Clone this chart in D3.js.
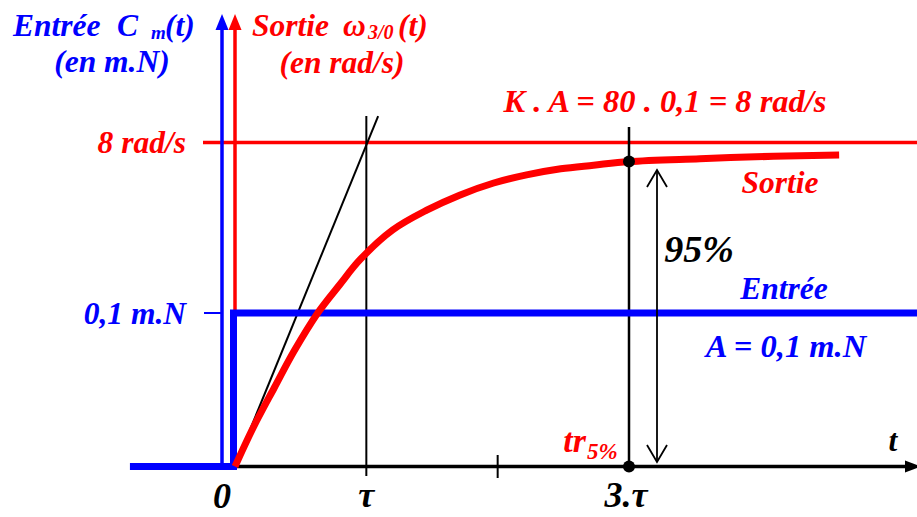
<!DOCTYPE html>
<html>
<head>
<meta charset="utf-8">
<script src="https://cdn.jsdelivr.net/npm/d3@7"></script>
<style>
  body { margin: 0; background: #fff; }
  svg text { font-family: "Liberation Serif", "Times New Roman", serif; font-weight: bold; font-style: italic; }
</style>
</head>
<body>
<div id="chart"></div>
<script>
// time in units of tau
var outT = [0, 0.14, 0.3, 0.45, 0.63, 0.8, 0.95, 1.2, 1.46, 1.71, 1.97, 2.22, 2.48, 2.73, 3, 3.54, 4.1, 4.6];
// omega 3/0 in rad/s
var outW = [0, 0.97, 1.95, 2.85, 3.79, 4.5, 5.1, 5.84, 6.33, 6.7, 7.0, 7.2, 7.35, 7.44, 7.53, 7.6, 7.66, 7.69];
// input torque step (m.N)
var inT = [-0.8, 0, 0, 5.3];
var inC = [0, 0, 0.1, 0.1];
// tangent at origin
var tanT = [0, 1.09];
var tanW = [0, 8.65];
var finalW = 8;
var stepA = 0.1;
var trT = 3;
var trW = 7.53;

var svgWidth = 917, svgHeight = 517;
var fs = 31.5;

var svg = d3.select("#chart").append("svg")
  .attr("width", svgWidth)
  .attr("height", svgHeight);

var x = d3.scaleLinear().domain([0, 3]).range([235, 629]);
var yOut = d3.scaleLinear().domain([0, 8]).range([466.5, 142.5]);
var yIn = d3.scaleLinear().domain([0, 0.1]).range([466.5, 313]);

var x0 = x(0);
var blueAxisX = x0 - 13;

// 8 rad/s reference line
svg.append("line")
  .attr("x1", 203).attr("x2", svgWidth)
  .attr("y1", yOut(finalW)).attr("y2", yOut(finalW))
  .attr("stroke", "#ff0000").attr("stroke-width", 3.5);

// 0,1 m.N small tick
svg.append("line")
  .attr("x1", 204).attr("x2", blueAxisX)
  .attr("y1", yIn(stepA)).attr("y2", yIn(stepA))
  .attr("stroke", "#0000ff").attr("stroke-width", 2);

// vertical helper lines at tau, 2 tau and 3 tau
svg.append("line")
  .attr("x1", x(1)).attr("x2", x(1))
  .attr("y1", 116).attr("y2", 476)
  .attr("stroke", "#000").attr("stroke-width", 2);
svg.append("line")
  .attr("x1", x(2)).attr("x2", x(2))
  .attr("y1", 455).attr("y2", 478)
  .attr("stroke", "#000").attr("stroke-width", 2);
svg.append("line")
  .attr("x1", x(trT)).attr("x2", x(trT))
  .attr("y1", 127).attr("y2", yOut(0))
  .attr("stroke", "#000").attr("stroke-width", 2.5);

// tangent
svg.append("line")
  .attr("x1", x(tanT[0])).attr("y1", yOut(tanW[0]))
  .attr("x2", x(tanT[1])).attr("y2", yOut(tanW[1]))
  .attr("stroke", "#000").attr("stroke-width", 2);

// time axis
svg.append("line")
  .attr("x1", x0).attr("x2", svgWidth - 6)
  .attr("y1", yOut(0)).attr("y2", yOut(0))
  .attr("stroke", "#000").attr("stroke-width", 3.5);
svg.append("path")
  .attr("d", `M${svgWidth + 4},${yOut(0)} L${svgWidth - 12},${yOut(0) - 6} L${svgWidth - 12},${yOut(0) + 6} Z`)
  .attr("fill", "#000");

// vertical axes with arrow heads
function vAxis(ax, color) {
  svg.append("line")
    .attr("x1", ax).attr("x2", ax)
    .attr("y1", 28).attr("y2", yOut(0))
    .attr("stroke", color).attr("stroke-width", 3.5);
  svg.append("path")
    .attr("d", `M${ax},14 L${ax - 6.5},30 L${ax + 6.5},30 Z`)
    .attr("fill", color);
}
vAxis(blueAxisX, "#0000ff");
vAxis(x0, "#ff0000");

// input step
var inLine = d3.line()
  .x(function(d, i) { return i == 1 || i == 2 ? x(d) - 1.5 : x(d); })
  .y(function(d, i) { return yIn(inC[i]); });
svg.append("path")
  .attr("d", inLine(inT))
  .attr("fill", "none")
  .attr("stroke", "#0000ff")
  .attr("stroke-width", 7);

// output response
var outLine = d3.line()
  .x(function(d) { return x(d); })
  .y(function(d, i) { return yOut(outW[i]); })
  .curve(d3.curveCatmullRom);
svg.append("path")
  .attr("d", outLine(outT))
  .attr("fill", "none")
  .attr("stroke", "#ff0000")
  .attr("stroke-width", 7);

// dots at tr5%
svg.append("circle").attr("cx", x(trT)).attr("cy", yOut(trW)).attr("r", 6).attr("fill", "#000");
svg.append("circle").attr("cx", x(trT)).attr("cy", yOut(0)).attr("r", 6).attr("fill", "#000");

// 95% double arrow
var ax = 657, aTop = 170, aBot = 462;
svg.append("line")
  .attr("x1", ax).attr("x2", ax).attr("y1", aTop).attr("y2", aBot)
  .attr("stroke", "#000").attr("stroke-width", 1.8);
svg.append("path")
  .attr("d", `M${ax - 10},${aTop + 17} L${ax},${aTop} L${ax + 10},${aTop + 17} M${ax - 10},${aBot - 17} L${ax},${aBot} L${ax + 10},${aBot - 17}`)
  .attr("fill", "none").attr("stroke", "#000").attr("stroke-width", 1.8);

// texts
function label(txt, px, py, color, size, anchor) {
  return svg.append("text")
    .attr("x", px).attr("y", py)
    .attr("fill", color)
    .attr("font-size", size)
    .attr("text-anchor", anchor || "start")
    .text(txt);
}

label("Entrée", 13, 36, "#0000ff", fs);
label("C", 117, 36, "#0000ff", fs);
label("m", 151, 39, "#0000ff", 19);
label("(t)", 165, 36, "#0000ff", fs);
label("(en m.N)", 112, 72, "#0000ff", fs, "middle");

label("Sortie", 252, 36, "#ff0000", fs);
label("ω", 343, 36, "#ff0000", fs);
label("3/0", 368, 39, "#ff0000", 20);
label("(t)", 398, 36, "#ff0000", fs);
label("(en rad/s)", 342, 73, "#ff0000", fs, "middle");

label("K . A = 80 . 0,1 = 8 rad/s", 665, 112, "#ff0000", 32.5, "middle");
label("8 rad/s", 186, 153, "#ff0000", fs, "end");
label("0,1 m.N", 186, 324, "#0000ff", fs, "end");
label("Sortie", 780, 193, "#ff0000", fs, "middle");
label("95%", 699, 262, "#000", 38, "middle");
label("Entrée", 784, 299, "#0000ff", fs, "middle");
label("A = 0,1 m.N", 786, 357, "#0000ff", 32.5, "middle");

label("0", x0 - 13, 508, "#000", 36, "middle");
label("τ", x(1), 507, "#000", 36, "middle");
label("3.τ", x(3) - 3, 507, "#000", 36, "middle");
label("t", 893, 451, "#000", fs, "middle");

label("tr", 586, 452, "#ff0000", 34, "end");
label("5%", 587, 459, "#ff0000", 23);
</script>
</body>
</html>
